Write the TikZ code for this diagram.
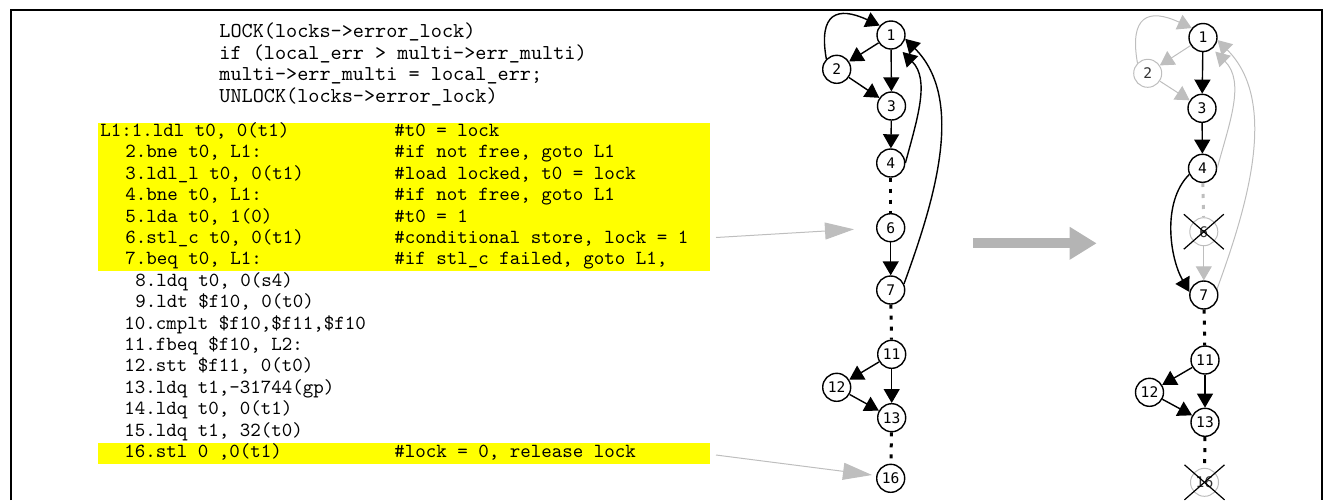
\documentclass[tikz,border=0pt]{standalone}
\usepackage{fontspec}
\newfontfamily\nodeFont{DejaVu Sans Mono}
\usetikzlibrary{arrows.meta}
\tikzstyle{pixels} = [x = 0.5pt, y = 0.5pt]
\definecolor{markColor}{RGB}{255,255,0}
\definecolor{fadeColor}{RGB}{190,190,190}
\definecolor{bigArrowColor}{RGB}{180,180,180}
\tikzstyle{codeText} = [anchor = base west, inner sep = 0pt, font = \ttfamily\fontsize{10}{11}\selectfont]
\tikzstyle{sourceText} = [codeText, font = \ttfamily\fontsize{10.6}{11}\selectfont]
\tikzstyle{blockNode} = [circle, draw = black, line width = 0.7pt, fill = white, minimum size = 14pt, inner sep = 0pt, font = \nodeFont\fontsize{7.3}{8}\selectfont]
\tikzstyle{fadedNode} = [blockNode, draw = fadeColor, text = black!80, line width = 0.5pt]
\tikzstyle{flowEdge} = [black, line width = 0.7pt, -{Triangle[length = 7pt, width = 8pt]}]
\tikzstyle{fadedEdge} = [fadeColor, line width = 0.5pt, -{Triangle[length = 7pt, width = 8pt]}]
\tikzstyle{skipEdge} = [black, line width = 1.5pt, dash pattern = on 2pt off 3.5pt]
\tikzstyle{fadedSkip} = [skipEdge, fadeColor]
\tikzstyle{pointerEdge} = [fadeColor, line width = 0.5pt, -{Triangle[length = 14.5pt, width = 8.5pt]}]
\tikzstyle{bigArrow} = [bigArrowColor, line width = 5pt, -{Triangle[length = 13.5pt, width = 15.5pt]}]
\tikzstyle{crossLine} = [black, line width = 0.6pt]
\newcommand{\cSource}[2]{\node [sourceText] (src#1) at (219, {-37.5 - (#1 - 1) * 21.5}) {#2};}
\newcommand{\codeLine}[3]{\node [codeText] (code#1) at (#2, {-136.5 - (#1 - 1) * 21.4}) {#3};}
\newcommand{\noteLine}[2]{\node [codeText] (note#1) at (394, {-136.5 - (#1 - 1) * 21.4}) {#2};}
\newcommand{\crossOut}[1]{
  \draw [crossLine] ([shift = {(-20, 17.5)}] #1.center) -- ([shift = {(20, -17.5)}] #1.center);
  \draw [crossLine] ([shift = {(-20, -17.5)}] #1.center) -- ([shift = {(20, 17.5)}] #1.center);
}
\begin{document}
\begin{tikzpicture}[pixels]
  \useasboundingbox (0, 0) rectangle (1323, -500);
  \draw [line width = 0.75pt] (11, -500) -- (11, -10) -- (1322, -10) -- (1322, -500);

  \cSource{1}{LOCK(locks->error\_lock)}
  \cSource{2}{if (local\_err > multi->err\_multi)}
  \cSource{3}{multi->err\_multi = local\_err;}
  \cSource{4}{UNLOCK(locks->error\_lock)}

  \fill [markColor] (98, -123) rectangle (710, -271);
  \fill [markColor] (98, -443) rectangle (710, -464);

  \codeLine{1}{100}{L1:1.ldl t0, 0(t1)}
  \codeLine{2}{125}{2.bne t0, L1:}
  \codeLine{3}{125}{3.ldl\_l t0, 0(t1)}
  \codeLine{4}{125}{4.bne t0, L1:}
  \codeLine{5}{125}{5.lda t0, 1(0)}
  \codeLine{6}{125}{6.stl\_c t0, 0(t1)}
  \codeLine{7}{125}{7.beq t0, L1:}
  \codeLine{8}{135}{8.ldq t0, 0(s4)}
  \codeLine{9}{135}{9.ldt \$f10, 0(t0)}
  \codeLine{10}{124}{10.cmplt \$f10,\$f11,\$f10}
  \codeLine{11}{124}{11.fbeq \$f10, L2:}
  \codeLine{12}{124}{12.stt \$f11, 0(t0)}
  \codeLine{13}{124}{13.ldq t1,-31744(gp)}
  \codeLine{14}{124}{14.ldq t0, 0(t1)}
  \codeLine{15}{124}{15.ldq t1, 32(t0)}
  \codeLine{16}{124}{16.stl 0 ,0(t1)}
  \noteLine{1}{\#t0 = lock}
  \noteLine{2}{\#if not free, goto L1}
  \noteLine{3}{\#load locked, t0 = lock}
  \noteLine{4}{\#if not free, goto L1}
  \noteLine{5}{\#t0 = 1}
  \noteLine{6}{\#conditional store, lock = 1}
  \noteLine{7}{\#if stl\_c failed, goto L1,}
  \noteLine{16}{\#lock = 0, release lock}

  \foreach \name/\x/\y in {1/891/35, 2/836.7/69.3, 3/891.5/106, 4/890.7/163, 6/890.7/227.7,
                           7/890.7/290, 11/891.7/354.3, 12/836.7/387.3, 13/891.7/417.7, 16/890.7/478.3}
    \node [blockNode] (n\name) at (\x, -\y) {\name};
  \foreach \a/\b in {1/2, 1/3, 2/3, 3/4, 6/7, 11/12, 11/13, 12/13}
    \draw [flowEdge] (n\a) -- (n\b);
  \foreach \a/\b in {4/6, 7/11, 13/16}
    \draw [skipEdge] (n\a) -- (n\b);
  \draw [flowEdge] (n2.135) to [out = 100, in = 155, looseness = 1.9] (n1.140);
  \draw [flowEdge, shorten > = 3pt] (n4.east) to [out = 75, in = -45] (n1.-60);
  \draw [flowEdge] (n7.25) to [out = 70, in = -45, looseness = 0.9] (n1.-15);

  \coordinate (from6) at (716, -237.5);
  \coordinate (to6) at (854, -229.3);
  \coordinate (from16) at (716, -455);
  \coordinate (to16) at (872, -475);
  \draw [pointerEdge] (from6) -- (to6);
  \draw [pointerEdge] (from16) -- (to16);

  \coordinate (bigFrom) at (973, -243.3);
  \coordinate (bigTo) at (1096.7, -243.3);
  \draw [bigArrow] (bigFrom) -- (bigTo);

  \foreach \name/\x/\y in {1/1203/37.5, 3/1202/108.3, 4/1202.5/168.3,
                           7/1203.8/295, 11/1205/360, 12/1149.5/392.3, 13/1205/422.3}
    \node [blockNode] (r\name) at (\x, -\y) {\name};
  \node [fadedNode] (r2) at (1147.7, -73.3) {2};
  \node [fadedNode] (r6) at (1203.8, -231.7) {6};
  \node [fadedNode] (r16) at (1204.5, -482.3) {16};
  \foreach \a/\b in {1/2, 2/3, 6/7}
    \draw [fadedEdge] (r\a) -- (r\b);
  \foreach \a/\b in {1/3, 3/4, 11/12, 11/13, 12/13}
    \draw [flowEdge] (r\a) -- (r\b);
  \draw [fadedSkip] (r4) -- (r6);
  \draw [skipEdge] (r7) -- (r11);
  \draw [skipEdge] (r13) -- (r16);
  \draw [fadedEdge] (r2.135) to [out = 100, in = 155, looseness = 1.9] (r1.140);
  \draw [fadedEdge, shorten > = 2pt] (r4.east) to [out = 75, in = -45] (r1.-50);
  \draw [fadedEdge] (r7.25) to [out = 70, in = -45, looseness = 0.9] (r1.-10);
  \draw [flowEdge] (r4.205) to [out = 225, in = 120, looseness = 0.85] (r7.168);
  \crossOut{r6}
  \crossOut{r16}
\end{tikzpicture}
\end{document}
